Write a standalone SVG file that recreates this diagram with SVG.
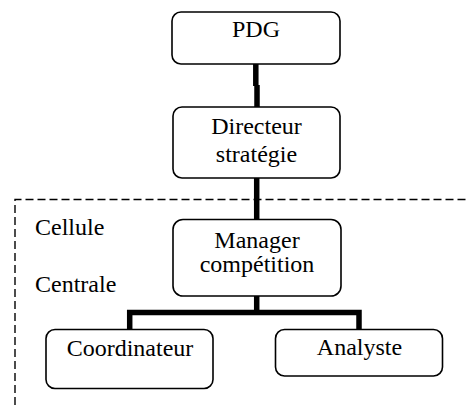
<svg xmlns="http://www.w3.org/2000/svg" width="467" height="405" viewBox="0 0 467 405">
  <style>
    .box { fill: #fff; stroke: #000; stroke-width: 1.6; }
    text { font-family: 'Liberation Serif', 'Times New Roman', Times, 'DejaVu Serif', serif; font-size: 24px; fill: #000; }
    .mid { text-anchor: middle; }
    .link { fill: none; stroke: #000; stroke-width: 5.5; stroke-linejoin: miter; stroke-linecap: butt; }
    .cell { fill: none; stroke: #000; stroke-width: 1.4; stroke-dasharray: 8 4; }
  </style>
  <rect width="467" height="405" fill="#fff"/>

  <!-- boundary of the central cell -->
  <g id="cell-boundary">
    <path class="cell" d="M15 405 V199.5 H467"/>
    <text font-family="Liberation Serif, serif" x="35" y="235">Cellule</text>
    <text font-family="Liberation Serif, serif" x="35" y="292">Centrale</text>
  </g>

  <!-- hierarchy links -->
  <g id="connectors">
    <path class="link" d="M255.8 64 V86"/>
    <path class="link" d="M257 85 V108"/>
    <path class="link" d="M256.7 178 V220"/>
    <path class="link" d="M256.7 296 V312.5"/>
    <path class="link" d="M129.7 329.5 V312.5 H359 V329.5"/>
  </g>

  <g id="pdg">
    <rect class="box" x="172" y="12" width="168" height="52" rx="9"/>
    <text class="mid" x="256" y="37">PDG</text>
  </g>

  <g id="directeur-strategie">
    <rect class="box" x="173" y="107" width="167" height="71" rx="9"/>
    <text class="mid" x="256.5" y="134">Directeur</text>
    <text class="mid" x="256.5" y="161.5">stratégie</text>
  </g>

  <g id="manager-competition">
    <rect class="box" x="173" y="219.5" width="168" height="76.5" rx="10"/>
    <text class="mid" x="257" y="248">Manager</text>
    <text class="mid" x="257" y="272">compétition</text>
  </g>

  <g id="coordinateur">
    <rect class="box" x="46" y="329.5" width="167" height="59" rx="9"/>
    <text class="mid" x="130" y="355.5">Coordinateur</text>
  </g>

  <g id="analyste">
    <rect class="box" x="275.5" y="329.5" width="167" height="46.5" rx="9"/>
    <text class="mid" x="359.5" y="354.5">Analyste</text>
  </g>
</svg>
